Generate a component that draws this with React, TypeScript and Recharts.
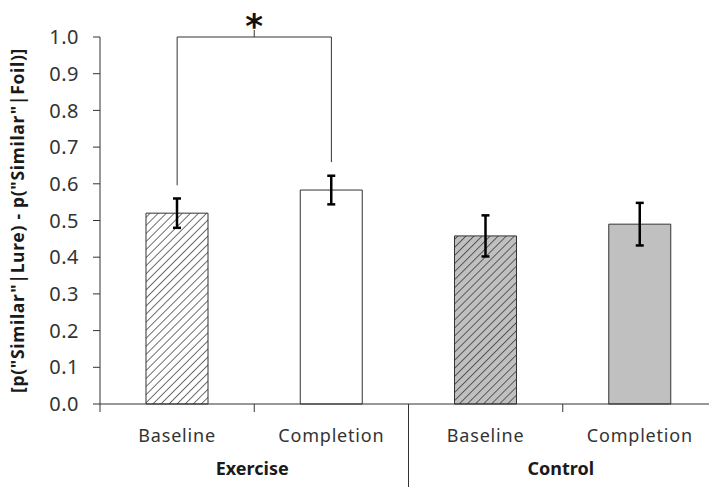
import { BarChart, Bar, Cell, XAxis, YAxis, ErrorBar, ReferenceLine } from "recharts";

const groups = ["Exercise", "Exercise", "Control", "Control"];
const phases = ["Baseline", "Completion", "Baseline", "Completion"];
const means = [0.52, 0.583, 0.458, 0.49];
const errors = [0.04, 0.039, 0.056, 0.058];
const yTicks = [0, 0.1, 0.2, 0.3, 0.4, 0.5, 0.6, 0.7, 0.8, 0.9, 1.0];

// significance bracket between the two Exercise bars
const bracketTop = 1.0;
const bracketLeftFoot = 0.596;
const bracketRightFoot = 0.659;

const FILLS = ["url(#hatchWhite)", "#ffffff", "url(#hatchGray)", "#c0c0c0"];

const W = 720;
const H = 487;
const M = { top: 37, right: 3, left: 0, bottom: 0 };
const Y_WIDTH = 100;
const X_HEIGHT = 83;
const BAND = (W - M.left - M.right - Y_WIDTH) / phases.length;

const data = phases.map((p, i) => ({
  id: `${groups[i]} ${p}`,
  phase: p,
  group: groups[i],
  mean: means[i],
  err: errors[i],
}));

const FONT = "'Noto Sans', sans-serif";
const INK = "#333";

function XTick(props: any) {
  const { x, y, index } = props;
  const left = x - BAND / 2;
  const d = data[index];
  return (
    <g>
      {index === 2 ? (
        <line x1={left} y1={y} x2={left} y2={y + X_HEIGHT} stroke={INK} />
      ) : (
        <line x1={left} y1={y} x2={left} y2={y + 8} stroke={INK} />
      )}
      <text
        x={x}
        y={y + 38}
        textAnchor="middle"
        fontSize={18}
        letterSpacing={0.8}
        fill={INK}
        fontFamily={FONT}
      >
        {d.phase}
      </text>
      {index % 2 === 1 && (
        <text
          x={left - 2}
          y={y + 71}
          textAnchor="middle"
          fontSize={18}
          fontWeight="bold"
          fill="#1a1a1a"
          fontFamily={FONT}
        >
          {d.group}
        </text>
      )}
    </g>
  );
}

function StarLabel(props: any) {
  const { viewBox } = props;
  const cx = viewBox.x + viewBox.width / 2;
  const cy = viewBox.y;
  return (
    <g>
      <line x1={cx} y1={cy} x2={cx} y2={cy - 7} stroke={INK} />
      <text
        x={cx}
        y={cy + 1}
        textAnchor="middle"
        fontSize={34}
        fontWeight="bold"
        fill="#111"
        fontFamily="'DejaVu Sans', sans-serif"
      >
        *
      </text>
    </g>
  );
}

export default function App() {
  return (
    <div
      style={{
        position: "absolute",
        left: 0,
        top: 0,
        width: 709,
        height: 487,
        overflow: "hidden",
        background: "#fff",
      }}
    >
      <svg width={0} height={0} style={{ position: "absolute" }}>
        <defs>
          <pattern
            id="hatchWhite"
            patternUnits="userSpaceOnUse"
            width={5.7}
            height={5.7}
            patternTransform="rotate(45)"
          >
            <rect width={5.7} height={5.7} fill="#ffffff" />
            <line x1={0} y1={0} x2={0} y2={5.7} stroke="#222" strokeWidth={1.3} />
          </pattern>
          <pattern
            id="hatchGray"
            patternUnits="userSpaceOnUse"
            width={5.7}
            height={5.7}
            patternTransform="rotate(45)"
          >
            <rect width={5.7} height={5.7} fill="#c0c0c0" />
            <line x1={0} y1={0} x2={0} y2={5.7} stroke="#222" strokeWidth={1.3} />
          </pattern>
        </defs>
      </svg>
      <BarChart width={W} height={H} data={data} margin={M} barSize={62}>
        <YAxis
          width={Y_WIDTH}
          domain={[0, 1]}
          ticks={yTicks}
          tickFormatter={(v: number) => v.toFixed(1)}
          axisLine={{ stroke: INK }}
          tickLine={{ stroke: INK }}
          tickSize={7}
          tickMargin={14}
          tick={{ fontSize: 20, fill: INK, fontFamily: FONT, letterSpacing: 0.5 }}
          label={{
            value: '[p("Similar"|Lure) - p("Similar"|Foil)]',
            angle: -90,
            position: "insideLeft",
            dx: 13,
            style: {
              fontSize: 17.5,
              fontWeight: "bold",
              fill: "#1a1a1a",
              fontFamily: FONT,
              letterSpacing: 0.7,
              textAnchor: "middle",
            },
          }}
        />
        <XAxis
          dataKey="id"
          height={X_HEIGHT}
          axisLine={{ stroke: INK }}
          tickLine={false}
          tickSize={0}
          tickMargin={0}
          interval={0}
          tick={<XTick />}
        />
        <Bar dataKey="mean" stroke={INK} strokeWidth={1} isAnimationActive={false}>
          {data.map((d, i) => (
            <Cell key={d.id} fill={FILLS[i]} />
          ))}
          <ErrorBar dataKey="err" width={4} stroke="#000" strokeWidth={2.5} />
        </Bar>
        <ReferenceLine
          ifOverflow="visible"
          stroke={INK}
          segment={[
            { x: data[0].id, y: bracketLeftFoot },
            { x: data[0].id, y: bracketTop },
          ]}
        />
        <ReferenceLine
          ifOverflow="visible"
          stroke={INK}
          segment={[
            { x: data[1].id, y: bracketRightFoot },
            { x: data[1].id, y: bracketTop },
          ]}
        />
        <ReferenceLine
          ifOverflow="visible"
          stroke={INK}
          segment={[
            { x: data[0].id, y: bracketTop },
            { x: data[1].id, y: bracketTop },
          ]}
          label={<StarLabel />}
        />
      </BarChart>
    </div>
  );
}
